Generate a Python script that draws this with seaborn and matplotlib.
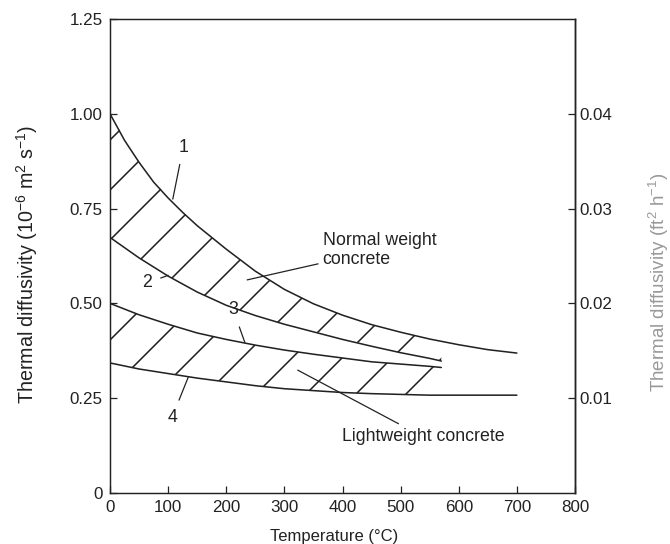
import numpy as np
import pandas as pd
import matplotlib
matplotlib.use("Agg")
import matplotlib.pyplot as plt
import seaborn as sns

# ---- data ----
temp_long = [0, 25, 50, 75, 100, 125, 150, 200, 250, 300, 350, 400, 450, 500, 550, 600, 650, 700]
curve1 = [1.00, 0.930, 0.872, 0.820, 0.778, 0.740, 0.705, 0.643, 0.585, 0.537, 0.499, 0.469,
          0.444, 0.424, 0.406, 0.391, 0.378, 0.369]
curve4 = [0.343, 0.335, 0.327, 0.321, 0.315, 0.309, 0.303, 0.293, 0.283, 0.275, 0.270, 0.265,
          0.262, 0.260, 0.258, 0.258, 0.258, 0.258]

temp_short = [0, 50, 100, 150, 200, 250, 300, 350, 400, 450, 500, 550, 570]
curve2 = [0.674, 0.620, 0.572, 0.530, 0.495, 0.468, 0.445, 0.425, 0.405, 0.387, 0.370, 0.355, 0.348]
curve3 = [0.500, 0.470, 0.445, 0.422, 0.405, 0.390, 0.377, 0.366, 0.356, 0.346, 0.340, 0.334, 0.331]

x_ticks = [0, 100, 200, 300, 400, 500, 600, 700, 800]
y_ticks = [0, 0.25, 0.50, 0.75, 1.00, 1.25]
y_ticklabels = ["0", "0.25", "0.50", "0.75", "1.00", "1.25"]
y2_ticks = [0.01, 0.02, 0.03, 0.04]
y2_ticklabels = ["0.01", "0.02", "0.03", "0.04"]
conv = 25.0  # (1e-6 m2/s) per (ft2/h), as aligned in the figure

df_long = pd.DataFrame({"T": temp_long * 2,
                        "D": curve1 + curve4,
                        "c": ["1"] * len(temp_long) + ["4"] * len(temp_long)})
df_short = pd.DataFrame({"T": temp_short * 2,
                         "D": curve2 + curve3,
                         "c": ["2"] * len(temp_short) + ["3"] * len(temp_short)})

# ---- style ----
sns.set_theme(style="ticks")
plt.rcParams["font.family"] = ["Liberation Sans", "DejaVu Sans"]
plt.rcParams["mathtext.fontset"] = "custom"
plt.rcParams["mathtext.rm"] = "Liberation Sans"
plt.rcParams["mathtext.it"] = "Liberation Sans:italic"
plt.rcParams["hatch.linewidth"] = 0.75
plt.rcParams["hatch.color"] = "#222222"

DPI = 150
fig = plt.figure(figsize=(670 / DPI, 544 / DPI), dpi=DPI)
ax = fig.add_axes([110 / 670, 1 - 493 / 544, 465 / 670, 474 / 544])

lc = "#222222"
lw = 0.75
sns.lineplot(data=df_long, x="T", y="D", units="c", estimator=None,
             color=lc, linewidth=lw, ax=ax, sort=False)
sns.lineplot(data=df_short, x="T", y="D", units="c", estimator=None,
             color=lc, linewidth=lw, ax=ax, sort=False)

# hatched bands
c1_s = np.interp(temp_short, temp_long, curve1)
c4_s = np.interp(temp_short, temp_long, curve4)
ax.fill_between(temp_short, curve2, c1_s, facecolor="none", edgecolor=lc,
                hatch="/", linewidth=0)
ax.fill_between(temp_short, c4_s, curve3, facecolor="none", edgecolor=lc,
                hatch="/", linewidth=0)

ax.set_xlim(0, 800)
ax.set_ylim(0, 1.25)
ax.set_xticks(x_ticks)
ax.set_xticklabels([str(t) for t in x_ticks])
ax.set_yticks(y_ticks)
ax.set_yticklabels(y_ticklabels)
ax.set_xlabel("")
ax.set_ylabel("")
fs_tick = 8.2
fs_ann = 8.5
ax.tick_params(direction="in", length=3.5, width=0.6, labelsize=fs_tick,
               colors=lc, pad=3.5)
for s in ax.spines.values():
    s.set_linewidth(0.7)
    s.set_color(lc)
    s.set_visible(True)

ax2 = ax.secondary_yaxis("right", functions=(lambda y: y / conv, lambda y: y * conv))
ax2.set_yticks(y2_ticks)
ax2.set_yticklabels(y2_ticklabels)
ax2.tick_params(direction="in", length=3.5, width=0.6, labelsize=fs_tick,
                colors=lc, pad=2)
ax2.spines["right"].set_linewidth(0.7)

# axis titles
fig.text(27 / 670, 1 - 264 / 544,
         r"Thermal diffusivity (10$^{-6}$ m$^{2}$ s$^{-1}$)",
         rotation=90, ha="center", va="center", fontsize=9.5, color=lc)
fig.text(659 / 670, 1 - 282 / 544,
         r"Thermal diffusivity (ft$^{2}$ h$^{-1}$)",
         rotation=90, ha="center", va="center", fontsize=9.0, color="#999999")
fig.text(334 / 670, 1 - 536 / 544, "Temperature (°C)",
         ha="center", va="center", fontsize=8.0, color=lc)

# annotations
arrow = dict(arrowstyle="-", color=lc, linewidth=0.6, shrinkA=2, shrinkB=0)
ax.annotate("1", xy=(108, 0.775), xytext=(126, 0.912), fontsize=fs_ann,
            ha="center", va="center", arrowprops=arrow, color=lc)
ax.annotate("2", xy=(100, 0.574), xytext=(64, 0.554), fontsize=fs_ann,
            ha="center", va="center", arrowprops=arrow, color=lc)
ax.annotate("3", xy=(232, 0.397), xytext=(212, 0.483), fontsize=fs_ann,
            ha="center", va="center", arrowprops=arrow, color=lc)
ax.annotate("4", xy=(135, 0.307), xytext=(107, 0.200), fontsize=fs_ann,
            ha="center", va="center", arrowprops=arrow, color=lc)
ax.annotate("Normal weight\nconcrete", xy=(236, 0.562), xytext=(366, 0.641),
            fontsize=fs_ann, ha="left", va="center", multialignment="left",
            arrowprops=dict(arrow, shrinkA=0), color=lc, linespacing=1.15)
ax.annotate("Lightweight concrete", xy=(323, 0.324), xytext=(399, 0.148),
            fontsize=fs_ann, ha="left", va="center",
            arrowprops=dict(arrow, shrinkA=0), color=lc)

fig.savefig("out.png", dpi=DPI)
